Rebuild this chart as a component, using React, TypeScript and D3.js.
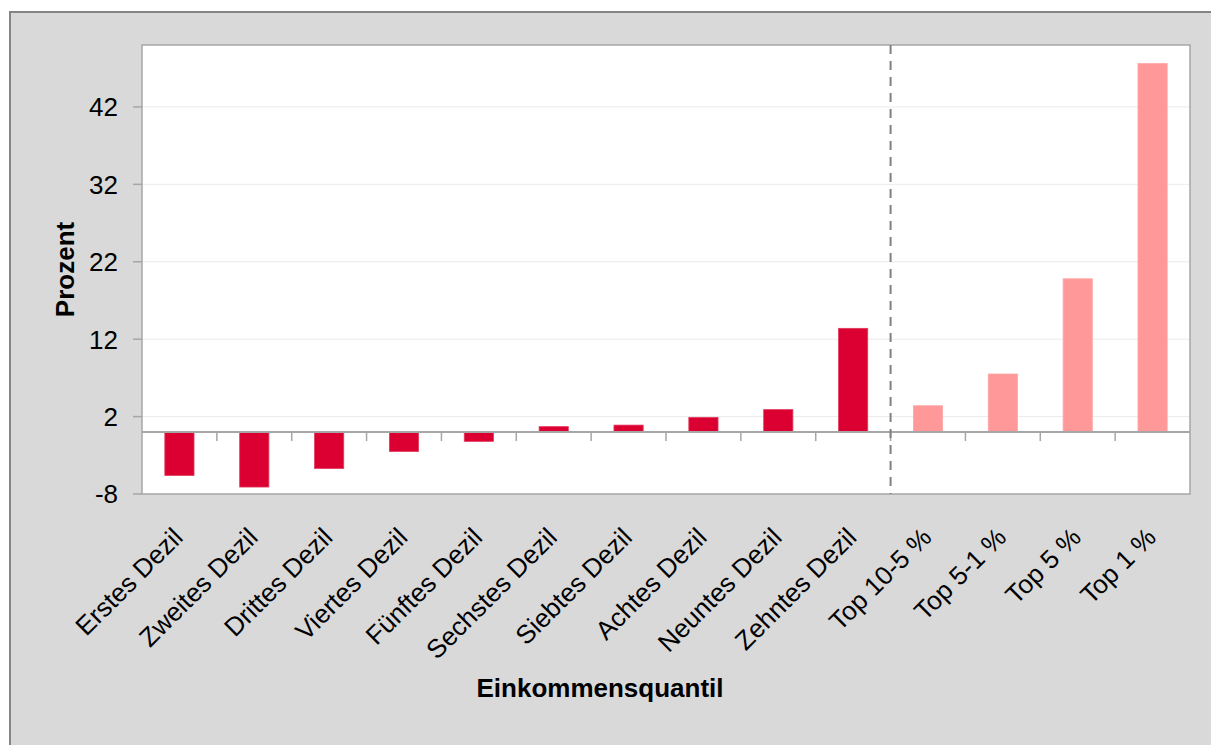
import { useEffect, useRef } from 'react';
import * as d3 from 'd3';

const categories = [
  'Erstes Dezil',
  'Zweites Dezil',
  'Drittes Dezil',
  'Viertes Dezil',
  'Fünftes Dezil',
  'Sechstes Dezil',
  'Siebtes Dezil',
  'Achtes Dezil',
  'Neuntes Dezil',
  'Zehntes Dezil',
  'Top 10-5 %',
  'Top 5-1 %',
  'Top 5 %',
  'Top 1 %',
];
const values = [-5.6, -7.1, -4.7, -2.5, -1.2, 0.7, 0.9, 1.9, 2.9, 13.4, 3.4, 7.5, 19.8, 47.6];
// first ten are deciles, the rest are top income groups
const groups = ['dezil', 'dezil', 'dezil', 'dezil', 'dezil', 'dezil', 'dezil', 'dezil', 'dezil', 'dezil', 'top', 'top', 'top', 'top'];
const yTicks = [-8, 2, 12, 22, 32, 42];
const yDomain = [-8, 50];

export default function App() {
  const svgRef = useRef<SVGSVGElement>(null);

  useEffect(() => {
    if (!svgRef.current) return;
    const svg = d3.select(svgRef.current);
    svg.selectAll('*').remove();

    const width = 1211;
    const height = 745;
    const plot = { left: 142, top: 45, right: 1190, bottom: 494 };
    const font = '"Liberation Sans", Arial, sans-serif';

    svg.attr('width', width).attr('height', height);

    // outer frame
    svg
      .append('rect')
      .attr('x', 10)
      .attr('y', 12)
      .attr('width', width + 20)
      .attr('height', height + 20)
      .attr('fill', '#d9d9d9')
      .attr('stroke', '#858585')
      .attr('stroke-width', 2);

    const x = d3.scaleBand().domain(categories).range([plot.left, plot.right]).padding(0);
    const y = d3.scaleLinear().domain(yDomain).range([plot.bottom, plot.top]);

    // plot background
    svg
      .append('rect')
      .attr('x', plot.left)
      .attr('y', plot.top)
      .attr('width', plot.right - plot.left)
      .attr('height', plot.bottom - plot.top)
      .attr('fill', '#ffffff');

    // gridlines
    svg
      .append('g')
      .selectAll('line')
      .data(yTicks.filter((t) => t > yDomain[0]))
      .enter()
      .append('line')
      .attr('x1', plot.left)
      .attr('x2', plot.right)
      .attr('y1', (d) => y(d))
      .attr('y2', (d) => y(d))
      .attr('stroke', '#ebebeb')
      .attr('stroke-width', 1);

    // bars
    const barW = x.bandwidth() * 0.39;
    svg
      .append('g')
      .selectAll('rect')
      .data(values)
      .enter()
      .append('rect')
      .attr('x', (d, i) => (x(categories[i]) || 0) + x.bandwidth() / 2 - barW / 2)
      .attr('y', (d) => y(Math.max(0, d)))
      .attr('width', barW)
      .attr('height', (d) => Math.abs(y(d) - y(0)))
      .attr('fill', (d, i) => (groups[i] === 'top' ? '#ff9999' : '#dc0032'))
      .attr('stroke', (d, i) => (groups[i] === 'top' ? '#ffa6a6' : '#e23a5c'))
      .attr('stroke-width', 0.8);

    // plot border
    svg
      .append('rect')
      .attr('x', plot.left)
      .attr('y', plot.top)
      .attr('width', plot.right - plot.left)
      .attr('height', plot.bottom - plot.top)
      .attr('fill', 'none')
      .attr('stroke', '#a6a6a6')
      .attr('stroke-width', 1.5);

    // zero line with category ticks
    svg
      .append('line')
      .attr('x1', plot.left)
      .attr('x2', plot.right)
      .attr('y1', y(0))
      .attr('y2', y(0))
      .attr('stroke', '#a6a6a6')
      .attr('stroke-width', 2);

    svg
      .append('g')
      .selectAll('line')
      .data(categories.slice(1))
      .enter()
      .append('line')
      .attr('x1', (d) => x(d) || 0)
      .attr('x2', (d) => x(d) || 0)
      .attr('y1', y(0))
      .attr('y2', y(0) + 9)
      .attr('stroke', '#a6a6a6')
      .attr('stroke-width', 1.5);

    // dashed separator between deciles and top groups
    const sepX = x(categories[groups.indexOf('top')]) || 0;
    svg
      .append('line')
      .attr('x1', sepX)
      .attr('x2', sepX)
      .attr('y1', plot.top)
      .attr('y2', plot.bottom)
      .attr('stroke', '#808080')
      .attr('stroke-width', 2)
      .attr('stroke-dasharray', '9,7');

    // y axis ticks + labels
    const yAxis = svg.append('g');
    yAxis
      .selectAll('line')
      .data(yTicks)
      .enter()
      .append('line')
      .attr('x1', plot.left - 9)
      .attr('x2', plot.left)
      .attr('y1', (d) => y(d))
      .attr('y2', (d) => y(d))
      .attr('stroke', '#a6a6a6')
      .attr('stroke-width', 1.5);
    yAxis
      .selectAll('text')
      .data(yTicks)
      .enter()
      .append('text')
      .attr('x', plot.left - 24)
      .attr('y', (d) => y(d))
      .attr('dy', '0.36em')
      .attr('text-anchor', 'end')
      .style('font-family', font)
      .style('font-size', '26px')
      .style('fill', '#000')
      .text((d) => String(d));

    // x labels, rotated
    svg
      .append('g')
      .selectAll('text')
      .data(categories)
      .enter()
      .append('text')
      .attr(
        'transform',
        (d) => `translate(${(x(d) || 0) + x.bandwidth() / 2 + 5},${plot.bottom + 45}) rotate(-45)`
      )
      .attr('text-anchor', 'end')
      .style('font-family', font)
      .style('font-size', '26px')
      .style('fill', '#000')
      .text((d) => d);

    // axis titles
    svg
      .append('text')
      .attr('transform', `translate(74,${(plot.top + plot.bottom) / 2}) rotate(-90)`)
      .attr('text-anchor', 'middle')
      .style('font-family', font)
      .style('font-size', '26px')
      .style('font-weight', 'bold')
      .text('Prozent');

    svg
      .append('text')
      .attr('x', 600)
      .attr('y', 697)
      .attr('text-anchor', 'middle')
      .style('font-family', font)
      .style('font-size', '26px')
      .style('font-weight', 'bold')
      .text('Einkommensquantil');
  }, []);

  return <svg ref={svgRef} style={{ position: 'absolute', left: 0, top: 0, display: 'block' }} />;
}
